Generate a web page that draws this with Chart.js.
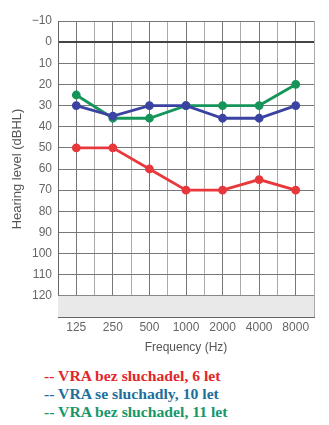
<!DOCTYPE html>
<html><head><meta charset="utf-8">
<script src="https://cdn.jsdelivr.net/npm/chart.js@4/dist/chart.umd.min.js"></script>
<style>
html,body{margin:0;padding:0;background:#fff;width:329px;height:425px;overflow:hidden}
#wrap{position:absolute;left:0;top:0;width:329px;height:355px}
.leg{position:absolute;left:44px;font-family:"Liberation Serif","Times New Roman",serif;font-weight:bold;font-size:14px;line-height:16px;white-space:nowrap;transform:scaleX(1.12);transform-origin:0 50%}
</style></head><body>
<div id="wrap"><canvas id="c"></canvas></div>
<div class="leg" style="top:369px;color:#e3262b">-- VRA bez sluchadel, 6 let</div>
<div class="leg" style="top:387px;color:#1f6f9c">-- VRA se sluchadly, 10 let</div>
<div class="leg" style="top:405px;color:#16976a">-- VRA bez sluchadel, 11 let</div>
<script>
const frequencies = ["125","250","500","1000","2000","4000","8000"];
const seriesNames = ["VRA bez sluchadel, 6 let","VRA se sluchadly, 10 let","VRA bez sluchadel, 11 let"];
const red6 = [50,50,60,70,70,65,70];
const blue10 = [30,35,30,30,36,36,30];
const green11 = [25,36,36,30,30,30,20];
const yTicks = [-10,0,10,20,30,40,50,60,70,80,90,100,110,120];

const toPts = arr => arr.map((v,i)=>({x:i,y:v}));
const band = {
  id:'band',
  beforeDatasetsDraw(chart){
    const {ctx, chartArea:a, scales:{y}} = chart;
    const y1 = y.getPixelForValue(120), y2 = y.getPixelForValue(130);
    ctx.save(); ctx.fillStyle='#e9e9e9';
    ctx.fillRect(a.left, Math.min(y1,y2), a.right-a.left, Math.abs(y2-y1));
    ctx.restore();
  }
};
const mk = (label,data,color)=>({label,data:toPts(data),borderColor:color,backgroundColor:color,
  borderWidth:2.8,pointRadius:3,pointHoverRadius:3,pointBackgroundColor:color,pointBorderColor:color,tension:0});
new Chart(document.getElementById('c'),{
  type:'line',
  data:{datasets:[
    mk(seriesNames[0],red6,'#e8383c'),
    mk(seriesNames[1],blue10,'#3b43a2'),
    mk(seriesNames[2],green11,'#16955a')
  ]},
  plugins:[band],
  options:{
    responsive:true,maintainAspectRatio:false,animation:false,
    layout:{padding:{top:21,right:15,left:10,bottom:0}},
    plugins:{legend:{display:false},tooltip:{enabled:false}},
    scales:{
      x:{type:'linear',min:-0.5,max:6.5,
        afterFit(s){s.height=38;},
        afterBuildTicks(s){const t=[];for(let v=-0.5;v<=6.5;v+=0.5)t.push({value:v});s.ticks=t;},
        ticks:{autoSkip:false,maxRotation:0,minRotation:0,color:'#666',padding:3,font:{family:'"Liberation Sans",Arial,sans-serif',size:12},
          callback:v=>Number.isInteger(v)?frequencies[v]:''},
        grid:{drawTicks:false,color:c=>Number.isInteger(c.tick.value)?'#777':'#aaa',lineWidth:1},
        border:{color:'#666',width:1},
        title:{display:true,text:'Frequency (Hz)',color:'#555',padding:{top:4,bottom:0},font:{family:'"Liberation Sans",Arial,sans-serif',size:12}}
      },
      y:{type:'linear',reverse:true,min:-10,max:130,
        afterFit(s){s.width=48;},
        afterBuildTicks(s){s.ticks=yTicks.concat([130]).map(v=>({value:v}));},
        ticks:{color:'#666',padding:6,font:{family:'"Liberation Sans",Arial,sans-serif',size:12},
          callback:v=>v>120?'':(v<0?'\u2212'+Math.abs(v):String(v))},
        grid:{drawTicks:false,color:c=>c.tick.value===0?'#444':'#777',lineWidth:c=>c.tick.value===0?2:1},
        border:{color:'#666',width:1},
        title:{display:true,text:'Hearing level (dBHL)',color:'#555',padding:{top:0,bottom:2},font:{family:'"Liberation Sans",Arial,sans-serif',size:13}}
      }
    }
  }
});
</script>
</body></html>
